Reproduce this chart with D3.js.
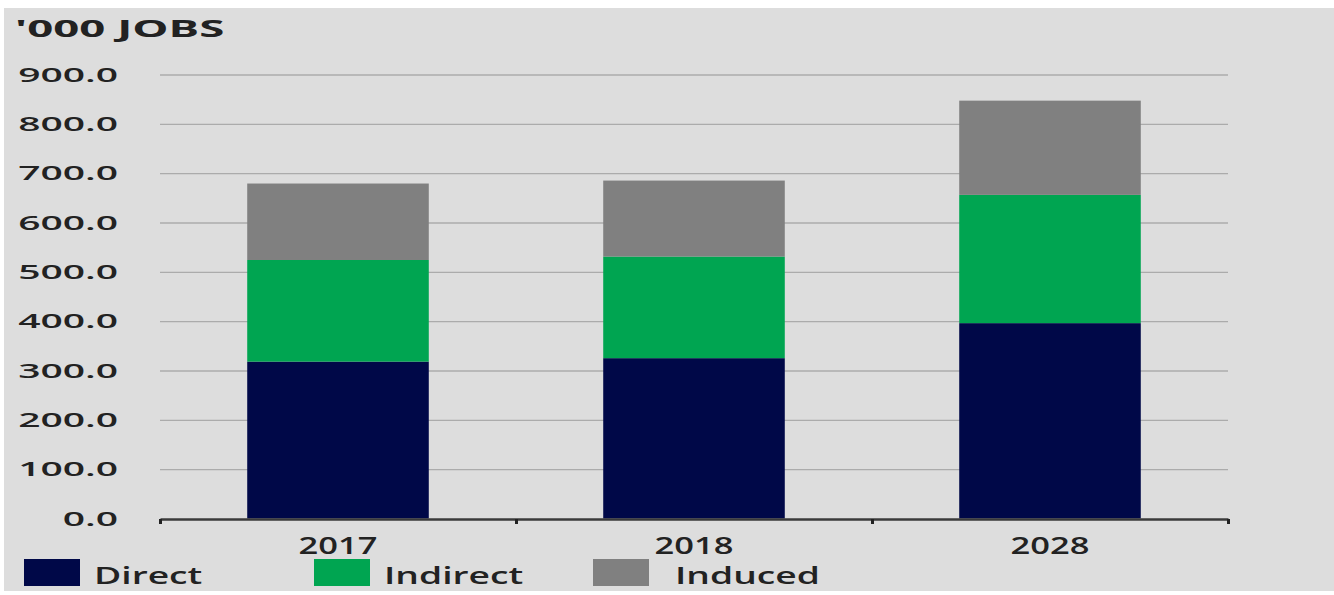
<!DOCTYPE html>
<html>
<head>
<meta charset="utf-8">
<title>'000 Jobs</title>
<script src="https://d3js.org/d3.v7.min.js"></script>
<style>
  body { margin: 0; background: #fff; }
  text { font-family: "Open Sans", sans-serif; fill: #222; }
</style>
</head>
<body>
<div id="chart"></div>
<script>

var years = ["2017", "2018", "2028"];
var direct = [318, 325, 396];
var indirect = [206, 206, 260];
var induced = [155, 154, 191];
var seriesNames = ["Direct", "Indirect", "Induced"];
var yTicks = [0, 100, 200, 300, 400, 500, 600, 700, 800, 900];

var colors = {Direct: "#000848", Indirect: "#00a551", Induced: "#808080"};

var W = 1334, H = 595;
var plotLeft = 160, plotRight = 1228, plotTop = 74.5, plotBottom = 518.5;

var svg = d3.select("#chart").append("svg")
  .attr("width", W).attr("height", H);

// grey panel with a thin white frame at top/left, like the source image
svg.append("rect").attr("x", 4).attr("y", 8).attr("width", W - 4).attr("height", 583)
  .attr("fill", "#dddddd");

var y = d3.scaleLinear().domain([0, 900]).range([plotBottom, plotTop]);
var x = d3.scaleBand().domain(years).range([plotLeft, plotRight])
  .paddingInner(0.49).paddingOuter(0.245);

// gridlines
svg.append("g")
  .attr("transform", "translate(" + plotLeft + ",0)")
  .call(d3.axisLeft(y).tickValues(yTicks.slice(1)).tickSize(-(plotRight - plotLeft)).tickFormat(""))
  .call(function(g){
    g.select(".domain").remove();
    g.selectAll("line").attr("stroke", "#ababab").attr("stroke-width", 1.4);
  });

// stacked bars
var rows = years.map(function(yr, i){
  return {year: yr, Direct: direct[i], Indirect: indirect[i], Induced: induced[i]};
});
var stack = d3.stack().keys(seriesNames)(rows);

svg.append("g").selectAll("g").data(stack).enter().append("g")
  .attr("fill", function(d){ return colors[d.key]; })
  .selectAll("rect").data(function(d){ return d; }).enter().append("rect")
  .attr("x", function(d){ return x(d.data.year); })
  .attr("width", x.bandwidth())
  .attr("y", function(d){ return y(d[1]); })
  .attr("height", function(d){ return y(d[0]) - y(d[1]); });

// x axis line with ticks at the category boundaries
var edges = d3.scaleLinear().domain([0, years.length]).range([plotLeft, plotRight]);
svg.append("g")
  .attr("transform", "translate(0," + (plotBottom + 0.5) + ")")
  .call(d3.axisBottom(edges).tickValues(d3.range(years.length + 1)).tickFormat("")
        .tickSize(5).tickSizeOuter(0))
  .call(function(g){
    g.select(".domain").attr("stroke", "#3a3a3a").attr("stroke-width", 2.5);
    g.selectAll(".tick line").attr("stroke", "#222").attr("stroke-width", 3);
  });

// y labels (source text is stretched horizontally)
svg.append("g").selectAll("text").data(yTicks).enter().append("text")
  .attr("transform", function(d){ return "translate(118," + (y(d) + 7) + ") scale(1.95,1)"; })
  .attr("text-anchor", "end")
  .attr("font-size", 20).attr("font-weight", 600)
  .text(function(d){ return d3.format(".1f")(d); });

// x labels
svg.append("g").selectAll("text").data(years).enter().append("text")
  .attr("transform", function(d){ return "translate(" + (x(d) + x.bandwidth() / 2) + ",554) scale(1.5,1)"; })
  .attr("text-anchor", "middle")
  .attr("font-size", 23).attr("font-weight", 600)
  .text(function(d){ return d; });

// title
svg.append("text")
  .attr("transform", "translate(15,37) scale(1.9,1)")
  .attr("font-size", 24).attr("font-weight", 700)
  .text("'000 JOBS");

// legend
var legX = [24, 314, 593];
var leg = svg.append("g").selectAll("g").data(seriesNames).enter().append("g")
  .attr("transform", function(d, i){ return "translate(" + legX[i] + ",559)"; });
leg.append("rect").attr("width", 56).attr("height", 27)
  .attr("fill", function(d){ return colors[d]; });
leg.append("text")
  .attr("transform", function(d, i){ return "translate(" + (i == 2 ? 82 : 70) + ",25) scale(1.55,1)"; })
  .attr("font-size", 24).attr("font-weight", 600)
  .text(function(d){ return d; });

</script>
</body>
</html>
